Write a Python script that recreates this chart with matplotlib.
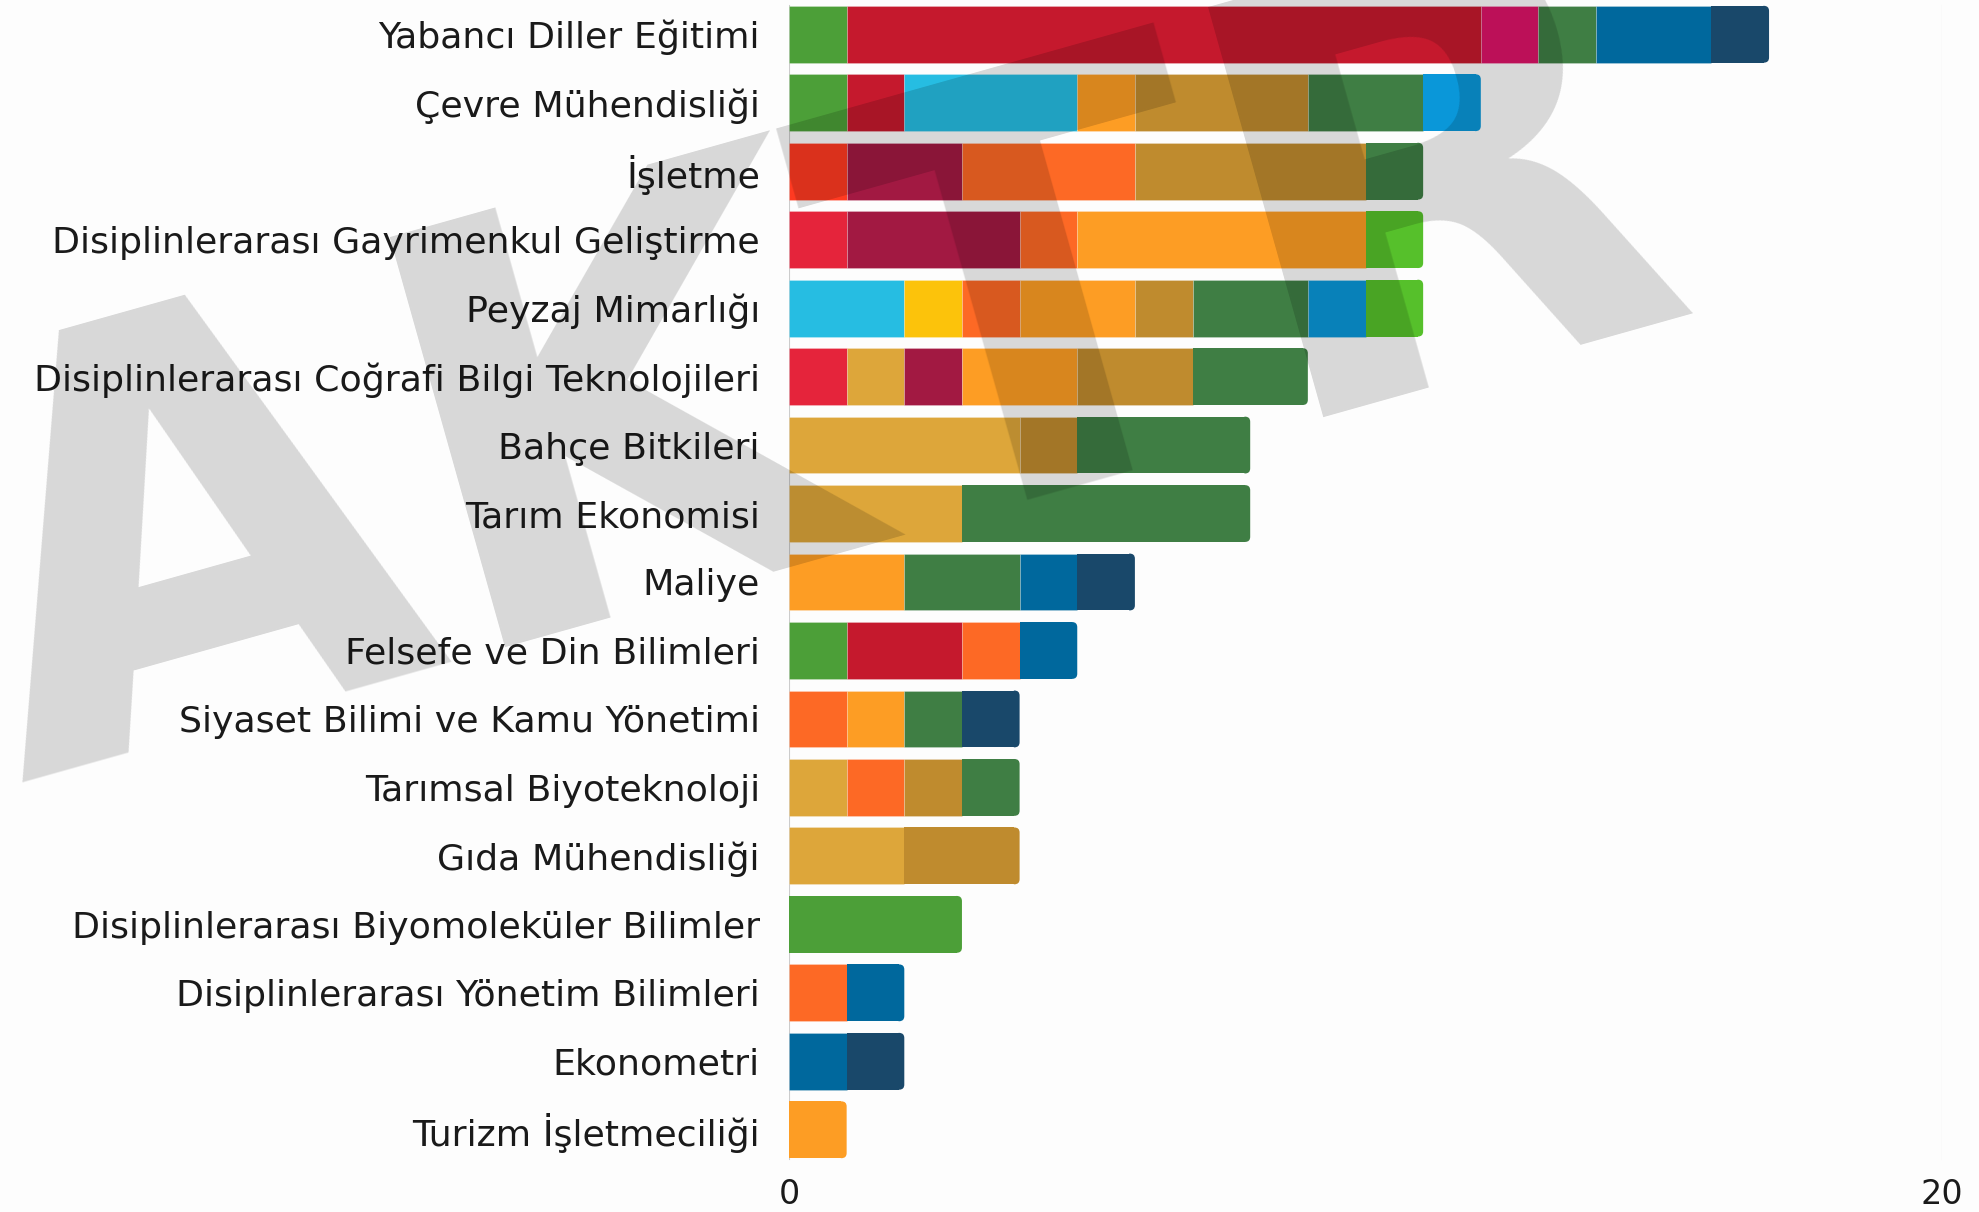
import matplotlib
matplotlib.use("Agg")
import matplotlib.pyplot as plt
from matplotlib.patches import PathPatch
from matplotlib.path import Path

categories = [
    "Yabancı Diller Eğitimi",
    "Çevre Mühendisliği",
    "İşletme",
    "Disiplinlerarası Gayrimenkul Geliştirme",
    "Peyzaj Mimarlığı",
    "Disiplinlerarası Coğrafi Bilgi Teknolojileri",
    "Bahçe Bitkileri",
    "Tarım Ekonomisi",
    "Maliye",
    "Felsefe ve Din Bilimleri",
    "Siyaset Bilimi ve Kamu Yönetimi",
    "Tarımsal Biyoteknoloji",
    "Gıda Mühendisliği",
    "Disiplinlerarası Biyomoleküler Bilimler",
    "Disiplinlerarası Yönetim Bilimleri",
    "Ekonometri",
    "Turizm İşletmeciliği",
]

# counts per SDG, one entry per category (same order as above)
sdg1  = [0, 0, 0, 1, 0, 1, 0, 0, 0, 0, 0, 0, 0, 0, 0, 0, 0]
sdg2  = [0, 0, 0, 0, 0, 1, 4, 3, 0, 0, 0, 1, 2, 0, 0, 0, 0]
sdg3  = [1, 1, 0, 0, 0, 0, 0, 0, 0, 1, 0, 0, 0, 3, 0, 0, 0]
sdg4  = [11, 1, 0, 0, 0, 0, 0, 0, 0, 2, 0, 0, 0, 0, 0, 0, 0]
sdg5  = [0, 0, 1, 0, 0, 0, 0, 0, 0, 0, 0, 0, 0, 0, 0, 0, 0]
sdg6  = [0, 3, 0, 0, 2, 0, 0, 0, 0, 0, 0, 0, 0, 0, 0, 0, 0]
sdg7  = [0, 0, 0, 0, 1, 0, 0, 0, 0, 0, 0, 0, 0, 0, 0, 0, 0]
sdg8  = [0, 0, 2, 3, 0, 1, 0, 0, 0, 0, 0, 0, 0, 0, 0, 0, 0]
sdg9  = [0, 0, 3, 1, 1, 0, 0, 0, 0, 1, 1, 1, 0, 0, 1, 0, 0]
sdg10 = [1, 0, 0, 0, 0, 0, 0, 0, 0, 0, 0, 0, 0, 0, 0, 0, 0]
sdg11 = [0, 1, 0, 5, 2, 2, 0, 0, 2, 0, 1, 0, 0, 0, 0, 0, 1]
sdg12 = [0, 3, 4, 0, 1, 2, 1, 0, 0, 0, 0, 1, 2, 0, 0, 0, 0]
sdg13 = [1, 2, 1, 0, 2, 2, 3, 5, 2, 0, 1, 1, 0, 0, 0, 0, 0]
sdg14 = [0, 1, 0, 0, 1, 0, 0, 0, 0, 0, 0, 0, 0, 0, 0, 0, 0]
sdg15 = [0, 0, 0, 1, 1, 0, 0, 0, 0, 0, 0, 0, 0, 0, 0, 0, 0]
sdg16 = [2, 0, 0, 0, 0, 0, 0, 0, 1, 1, 0, 0, 0, 0, 1, 1, 0]
sdg17 = [1, 0, 0, 0, 0, 0, 0, 0, 1, 0, 1, 0, 0, 0, 0, 1, 0]

series = [sdg1, sdg2, sdg3, sdg4, sdg5, sdg6, sdg7, sdg8, sdg9, sdg10,
          sdg11, sdg12, sdg13, sdg14, sdg15, sdg16, sdg17]
sdg_colors = ["#E5243B", "#DDA63A", "#4C9F38", "#C5192D", "#FF3A21", "#26BDE2",
              "#FCC30B", "#A21942", "#FD6925", "#DD1367", "#FD9D24", "#BF8B2E",
              "#3F7E44", "#0A97D9", "#56C02B", "#00689D", "#19486A"]

x_ticks = [0, 20]
watermark = "AKTR"

W, H = 1979, 1212
fig = plt.figure(figsize=(W / 100, H / 100), dpi=100, facecolor="#FDFDFD")
ax = fig.add_axes([789 / W, 48 / H, (1942 - 789) / W, 1164 / H])
ax.set_facecolor("#FDFDFD")

bar_h = 0.83
rx = 0.09    # corner radius, x units
ry = 0.075   # corner radius, y units

n = len(categories)
for i in range(n):
    vals = [s[i] for s in series]
    last = max(k for k, v in enumerate(vals) if v > 0)
    left = 0
    for k, v in enumerate(vals):
        if v <= 0:
            continue
        col = sdg_colors[k]
        if k == last:
            ax.barh(i, v - rx, left=left, height=bar_h, color=col,
                    edgecolor="none", linewidth=0, zorder=2)
            x1 = left + v
            x0 = x1 - rx - 0.01
            y0, y1 = i - bar_h / 2, i + bar_h / 2
            verts = [(x0, y0), (x1 - rx, y0), (x1, y0), (x1, y0 + ry),
                     (x1, y1 - ry), (x1, y1), (x1 - rx, y1), (x0, y1), (x0, y0)]
            codes = [Path.MOVETO, Path.LINETO, Path.CURVE3, Path.CURVE3,
                     Path.LINETO, Path.CURVE3, Path.CURVE3, Path.LINETO,
                     Path.CLOSEPOLY]
            ax.add_patch(PathPatch(Path(verts, codes), facecolor=col,
                                   edgecolor="none", zorder=2))
        else:
            ax.barh(i, v, left=left, height=bar_h, color=col,
                    edgecolor=(1, 1, 1, 0.3), linewidth=0.5, zorder=2)
        left += v

ax.set_xlim(0, 20)
ax.set_ylim(n - 0.5, -0.5)
ax.set_yticks(range(n))
ax.set_yticklabels(categories, fontsize=26.2, color="#1a1a1a")
ax.set_xticks(x_ticks)
ax.set_xticklabels([str(t) for t in x_ticks], fontsize=24, color="#1a1a1a")
ax.tick_params(axis="y", length=0, pad=21)
ax.tick_params(axis="x", length=0, pad=10)
for sp in ax.spines.values():
    sp.set_visible(False)
for t in x_ticks:
    ax.axvline(t, ymin=0.004, ymax=0.996, color="#CCCCCC", linewidth=0.8, zorder=1)

fig.text(19 / W, 1 - 783 / H, watermark, fontsize=420, fontweight="bold",
         family="DejaVu Sans", color="black", alpha=0.15, rotation=15.7,
         rotation_mode="anchor", ha="left", va="baseline", zorder=10)

fig.savefig("out.png", dpi=100, facecolor=fig.get_facecolor())
